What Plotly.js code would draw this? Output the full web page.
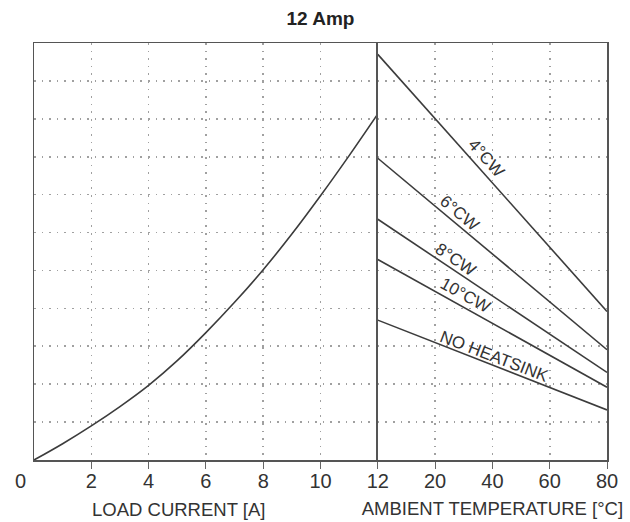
<!DOCTYPE html>
<html>
<head>
<meta charset="utf-8">
<script src="https://cdn.plot.ly/plotly-3.0.1.min.js"></script>
<style>html,body{margin:0;padding:0;background:#fff;}#chart{width:630px;height:522px;}</style>
</head>
<body>
<div id="chart"></div>
<script>
// ---- data ----
const chartTitle = '12 Amp';
const loadCurrent = [0, 1, 2, 3, 4, 5, 6, 7, 8, 9, 10, 11, 12];
const loadCurve   = [0, 0.43, 0.90, 1.41, 1.97, 2.62, 3.36, 4.16, 5.02, 5.96, 6.97, 8.03, 9.13];
const loadTicks   = [0, 2, 4, 6, 8, 10];
const tempCategories = ['12', '20', '40', '60', '80'];
const tempEnds = ['12', '80'];
const cw4  = [10.70, 3.92];
const cw6  = [7.96, 2.91];
const cw8  = [6.35, 2.31];
const cw10 = [5.29, 1.92];
const noHeatsink = [3.69, 1.32];
const seriesNames = ['4°CW', '6°CW', '8°CW', '10°CW', 'NO HEATSINK'];
const xTitleLeft = 'LOAD CURRENT [A]';
const xTitleRight = 'AMBIENT TEMPERATURE [°C]';

const lineColor = '#3c3c3c';
const textColor = '#333333';
const fontFam = '"Liberation Sans", Arial, sans-serif';

const traces = [
  {x: loadCurrent, y: loadCurve, xaxis: 'x', yaxis: 'y', mode: 'lines',
   line: {color: lineColor, width: 1.6, shape: 'spline', smoothing: 1}, hoverinfo: 'skip'}
];
const rightSeries = [cw4, cw6, cw8, cw10, noHeatsink];
rightSeries.forEach((vals, i) => {
  traces.push({x: tempEnds, y: vals, xaxis: 'x2', yaxis: 'y2', mode: 'lines', name: seriesNames[i],
    line: {color: lineColor, width: 1.6}, hoverinfo: 'skip'});
});

// label placement (category index / y units) and angle
const labelPos = [
  {x: 1.90, y: 7.96, a: 48},
  {x: 1.43, y: 6.50, a: 40},
  {x: 1.35, y: 5.28, a: 34},
  {x: 1.53, y: 4.33, a: 29},
  {x: 2.03, y: 2.73, a: 21}
];
const annotations = labelPos.map((p, i) => ({
  xref: 'x2', yref: 'y2', x: p.x, y: p.y, text: seriesNames[i], showarrow: false,
  textangle: p.a, xanchor: 'center', yanchor: 'middle',
  font: {family: fontFam, size: 17, color: textColor}
}));
annotations.push({
  xref: 'paper', yref: 'paper', x: -14 / 573, y: 0, yanchor: 'top', xanchor: 'center', yshift: -8,
  text: String(loadTicks[0]), showarrow: false, font: {family: fontFam, size: 20, color: textColor}
});
annotations.push({
  xref: 'paper', yref: 'paper', x: (178.5 - 34) / 573, y: 0, yanchor: 'middle', xanchor: 'center', yshift: -49,
  text: xTitleLeft, showarrow: false, font: {family: fontFam, size: 18.5, color: textColor}
});

const gridCommon = {showgrid: true, gridcolor: '#a0a0a0', gridwidth: 1.6, griddash: '1.6px,6px', zeroline: false};

const layout = {
  width: 630, height: 522,
  margin: {l: 34, r: 23, t: 43, b: 62, pad: 0},
  paper_bgcolor: '#fff', plot_bgcolor: '#fff',
  showlegend: false,
  font: {family: fontFam, color: textColor},
  title: {text: '<b>' + chartTitle + '</b>', x: 0.5, xref: 'paper', y: 1 - 18 / 522, yref: 'container',
          yanchor: 'middle', font: {family: fontFam, size: 19, color: '#222'}},
  xaxis: Object.assign({}, gridCommon, {
    domain: [0, 0.6], range: [0, 12], tickvals: loadTicks.slice(1), ticks: 'outside', ticklen: 7,
    tickcolor: '#666', tickwidth: 1, showline: true, mirror: true, linecolor: '#555', linewidth: 1.5,
    ticklabelstandoff: -5,
    tickfont: {family: fontFam, size: 20, color: textColor}, anchor: 'y'
  }),
  xaxis2: Object.assign({}, gridCommon, {
    domain: [0.6, 1], type: 'category', categoryorder: 'array', categoryarray: tempCategories,
    tickvals: tempCategories, range: [0, 4], ticks: 'outside', ticklen: 7, tickcolor: '#666', tickwidth: 1,
    showline: true, mirror: true, linecolor: '#555', linewidth: 1.5,
    ticklabelstandoff: -5,
    tickfont: {family: fontFam, size: 20, color: textColor}, anchor: 'y2',
    title: {text: xTitleRight, font: {family: fontFam, size: 18.5, color: textColor}, standoff: 11}
  }),
  yaxis: Object.assign({}, gridCommon, {
    domain: [0, 1], range: [0, 11], dtick: 1, showticklabels: false, ticks: '',
    showline: true, mirror: false, linecolor: '#555', linewidth: 1.5, anchor: 'x'
  }),
  yaxis2: Object.assign({}, gridCommon, {
    domain: [0, 1], range: [0, 11], dtick: 1, showticklabels: false, ticks: '',
    showline: true, mirror: true, linecolor: '#555', linewidth: 1.5, anchor: 'x2'
  }),
  annotations: annotations
};

Plotly.newPlot('chart', traces, layout, {displayModeBar: false, staticPlot: true});
</script>
</body>
</html>
